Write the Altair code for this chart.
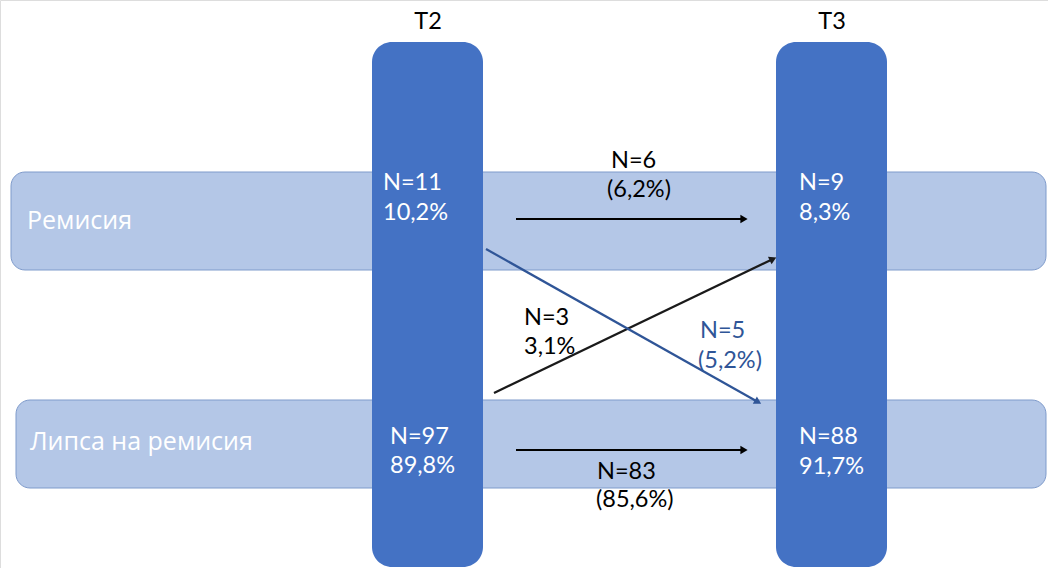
import altair as alt
import pandas as pd
import math

# ---- data ----
row_labels = ["Ремисия", "Липса на ремисия"]
row_x0 = [11, 16]
row_x1 = [1046, 1046]
row_y0 = [172, 400]
row_y1 = [270, 488]
row_label_x = [27, 30]
row_label_y = [221, 442]

time_labels = ["T2", "T3"]
col_x0 = [372, 776]
col_x1 = [483, 887]
col_y0 = [42, 42]
col_y1 = [567, 567]
time_label_x = [428, 832]
time_label_y = [22, 22]

node_text = ["N=11", "10,2%", "N=97", "89,8%", "N=9", "8,3%", "N=88", "91,7%"]
node_x = [383, 383, 390, 390, 799, 799, 799, 799]
node_y = [183, 213, 437, 466, 183, 213, 437, 467]

arrow_x0 = [516, 516, 494, 486]
arrow_y0 = [219, 450, 393, 249]
arrow_x1 = [744, 744, 773, 758]
arrow_y1 = [219, 450, 259, 402]
arrow_color = ["#000000", "#000000", "#1a1a1a", "#2F5597"]

flow_text = ["N=6", "(6,2%)", "N=83", "(85,6%)", "N=3", "3,1%", "N=5", "(5,2%)"]
flow_x = [611, 607, 597, 596, 524, 524, 700, 698]
flow_y = [161, 190, 472, 500, 318, 347, 331, 361]
flow_color = ["#000000"] * 6 + ["#2F5597"] * 2

FONT = "Lato"
FS = 23.5
W, H = 1048, 568

xs = alt.Scale(domain=[0, W], nice=False, zero=False)
ys = alt.Scale(domain=[0, H], nice=False, zero=False, reverse=True)

rows = pd.DataFrame(dict(label=row_labels, x=row_x0, x2=row_x1, y=row_y0, y2=row_y1,
                         lx=row_label_x, ly=row_label_y))
cols = pd.DataFrame(dict(label=time_labels, x=col_x0, x2=col_x1, y=col_y0, y2=col_y1,
                         lx=time_label_x, ly=time_label_y))
nodes = pd.DataFrame(dict(t=node_text, x=node_x, y=node_y))
arrows = pd.DataFrame(dict(x=arrow_x0, y=arrow_y0, x2=arrow_x1, y2=arrow_y1, c=arrow_color))
# arrowhead orientation derived from the line direction
arrows["ang"] = [(math.degrees(math.atan2(b1 - b0, a1 - a0)) + 360) % 360
                 for a0, b0, a1, b1 in zip(arrow_x0, arrow_y0, arrow_x1, arrow_y1)]
flows = pd.DataFrame(dict(t=flow_text, x=flow_x, y=flow_y, c=flow_color))

X = lambda f="x": alt.X(f"{f}:Q", scale=xs, axis=None)
Y = lambda f="y": alt.Y(f"{f}:Q", scale=ys, axis=None)

row_rect = alt.Chart(rows).mark_rect(cornerRadius=14, fill="#B4C7E7", stroke="#7F9BCB",
                                      strokeWidth=1).encode(
    x=X(), x2="x2:Q", y=Y(), y2="y2:Q")
row_txt = alt.Chart(rows).mark_text(align="left", baseline="middle", font="Open Sans", fontSize=25,
                                     color="white").encode(x=X("lx"), y=Y("ly"), text="label:N")

col_rect = alt.Chart(cols).mark_rect(cornerRadius=20, fill="#4472C4").encode(
    x=X(), x2="x2:Q", y=Y(), y2="y2:Q")
col_txt = alt.Chart(cols).mark_text(align="center", baseline="middle", font=FONT, fontSize=FS,
                                     color="black").encode(x=X("lx"), y=Y("ly"), text="label:N")

node_txt = alt.Chart(nodes).mark_text(align="left", baseline="middle", font=FONT, fontSize=FS,
                                       color="white").encode(x=X(), y=Y(), text="t:N")

lines = alt.Chart(arrows).mark_rule(strokeWidth=2.2).encode(
    x=X(), y=Y(), x2="x2:Q", y2="y2:Q", color=alt.Color("c:N", scale=None))
heads = alt.Chart(arrows).mark_point(shape="triangle-right", filled=True, size=70, opacity=1).encode(
    x=X("x2"), y=Y("y2"), angle=alt.Angle("ang:Q", scale=None),
    color=alt.Color("c:N", scale=None))

flow_txt = alt.Chart(flows).mark_text(align="left", baseline="middle", font=FONT, fontSize=FS).encode(
    x=X(), y=Y(), text="t:N", color=alt.Color("c:N", scale=None))

chart = alt.layer(row_rect, row_txt, col_rect, col_txt, node_txt, lines, heads, flow_txt).properties(
    width=W, height=H, padding=0, autosize=alt.AutoSizeParams(type="none")
).configure_view(stroke=None).configure(background="white")

chart.save("out.html", embed_options={"renderer": "svg", "actions": False})
